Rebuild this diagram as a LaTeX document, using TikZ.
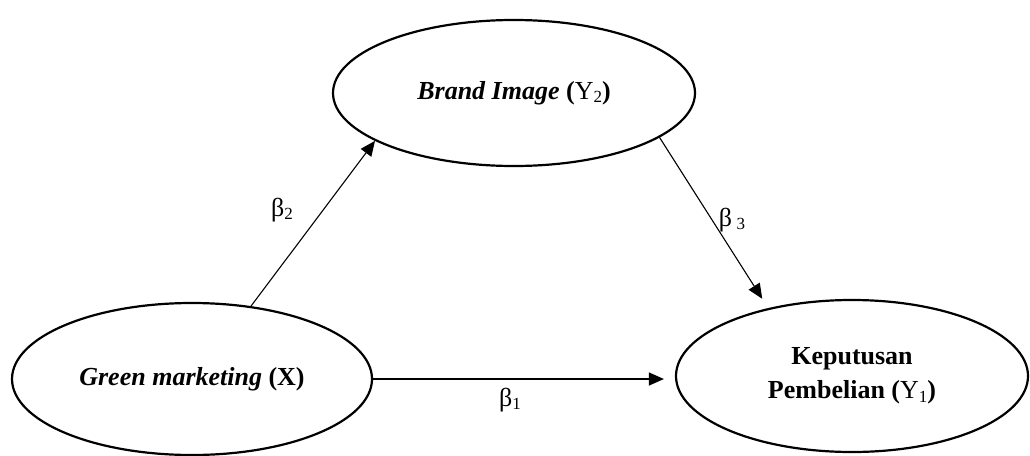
\documentclass[tikz,border=0pt]{standalone}
\usepackage{fontspec}
\setmainfont{Liberation Serif}
\usetikzlibrary{shapes.geometric,arrows.meta}
\newcommand{\lowsub}[1]{\raisebox{-0.3ex}{\fontsize{17}{17}\selectfont #1}}
\begin{document}
\begin{tikzpicture}[x=1pt,y=-1pt,
  latent/.style={draw,ellipse,line width=2.2pt,inner sep=0pt,align=center,
    font=\fontsize{26}{34}\selectfont},
  path/.style={line width=1.1pt,-{Triangle[length=15pt,width=13pt]}},
  coef/.style={font=\fontsize{26}{30}\selectfont,inner sep=0pt}]
\useasboundingbox (0,0) rectangle (1030,455);
\node[latent,minimum width=362pt,minimum height=146pt] (bi) at (514,93)
  {\textbf{\textit{Brand Image}} \textbf{(}Y\lowsub{2}\textbf{)}};
\node[latent,minimum width=360pt,minimum height=152pt] (gm) at (192,379)
  {\textbf{\textit{Green marketing}} \textbf{(X)}};
\node[latent,minimum width=352pt,minimum height=152pt] (kp) at (852,376)
  {\textbf{Keputusan}\\\textbf{Pembelian (}Y\lowsub{1}\textbf{)}};
\draw[path] (gm.51) -- (bi.199);
\draw[path,shorten >=11pt] (bi.-17.6) -- (kp.141.8);
\draw[path,shorten >=11pt] (gm.east) -- (gm.east -| kp.west);
\node[coef] (b2) at (282,210) {β\lowsub{2}};
\node[coef] (b3) at (732,220) {β\,\lowsub{3}};
\node[coef] (b1) at (510,400) {β\lowsub{1}};
\end{tikzpicture}
\end{document}
